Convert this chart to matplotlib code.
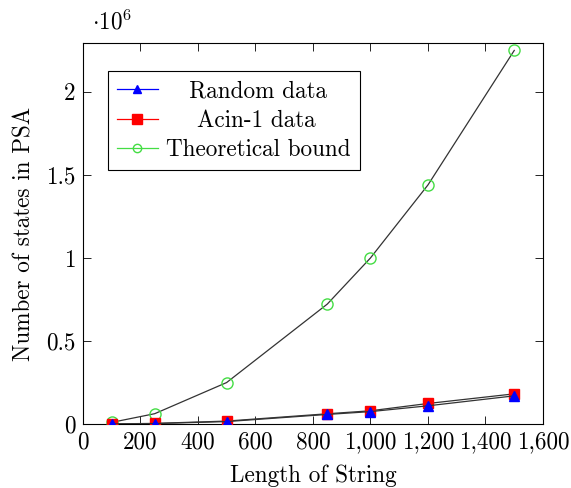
import matplotlib
matplotlib.use('Agg')
import matplotlib.pyplot as plt
from matplotlib.lines import Line2D
from matplotlib.ticker import FuncFormatter

# string lengths and PSA state counts
lengths = [100, 250, 500, 850, 1000, 1200, 1500]
random_states = [1000, 3000, 15000, 58000, 75000, 110000, 170000]
acin_states = [1000, 4000, 18000, 62000, 80000, 124000, 182000]
bound_states = [10000, 62500, 250000, 722500, 1000000, 1440000, 2250000]

plt.rcParams['font.family'] = 'serif'
plt.rcParams['font.serif'] = ['cmr10', 'DejaVu Serif']
plt.rcParams['mathtext.fontset'] = 'cm'
plt.rcParams['axes.unicode_minus'] = False

fs = 16.7
fig = plt.figure(figsize=(5.71, 4.88), dpi=100)
ax = fig.add_axes([0.145, 0.131, 0.806, 0.781])

line_col = '#333333'
ax.plot(lengths, bound_states, color=line_col, lw=0.9, marker='o', ms=8,
        mfc='none', mec='#44dd44', mew=1.0, zorder=3)
ax.plot(lengths, acin_states, color=line_col, lw=0.9, marker='s', ms=7.5,
        mfc='red', mec='red', zorder=4)
ax.plot(lengths, random_states, color=line_col, lw=0.9, marker='^', ms=7.5,
        mfc='blue', mec='blue', zorder=5)

ax.set_xlim(0, 1600)
ax.set_ylim(0, 2.295e6)
ax.set_xticks(range(0, 1601, 200))
ax.set_yticks([0, 0.5e6, 1e6, 1.5e6, 2e6])
ax.xaxis.set_major_formatter(FuncFormatter(lambda v, p: '{:,}'.format(int(v))))
ax.yaxis.set_major_formatter(FuncFormatter(lambda v, p: '{:g}'.format(v / 1e6)))
ax.tick_params(direction='in', top=True, right=True, labelsize=fs, length=6,
               width=0.6, pad=5)
for s in ax.spines.values():
    s.set_linewidth(0.8)

ax.text(0.02, 1.022, r'$\cdot 10^6$', transform=ax.transAxes, fontsize=fs,
        ha='left', va='bottom')

ax.set_xlabel('Length of String', fontsize=fs, labelpad=8)
ax.set_ylabel('Number of states in PSA', fontsize=fs, labelpad=8)

handles = [
    Line2D([], [], color='blue', lw=0.9, marker='^', ms=6, mfc='blue', mec='blue'),
    Line2D([], [], color='red', lw=0.9, marker='s', ms=7, mfc='red', mec='red'),
    Line2D([], [], color='#44dd44', lw=0.9, marker='o', ms=6, mfc='none', mec='#44dd44'),
]
# leading spaces roughly centre the shorter entries like the original
names = ['   Random data', '    Acin-1 data', 'Theoretical bound']
leg = ax.legend(handles, names, loc='upper left', bbox_to_anchor=(0.054, 0.926),
                borderaxespad=0, fontsize=fs, fancybox=False, framealpha=1,
                edgecolor='black', handlelength=1.75, handletextpad=0.35,
                labelspacing=0.3, borderpad=0.4)
leg.get_frame().set_linewidth(0.8)

fig.savefig('out.png', dpi=100)
